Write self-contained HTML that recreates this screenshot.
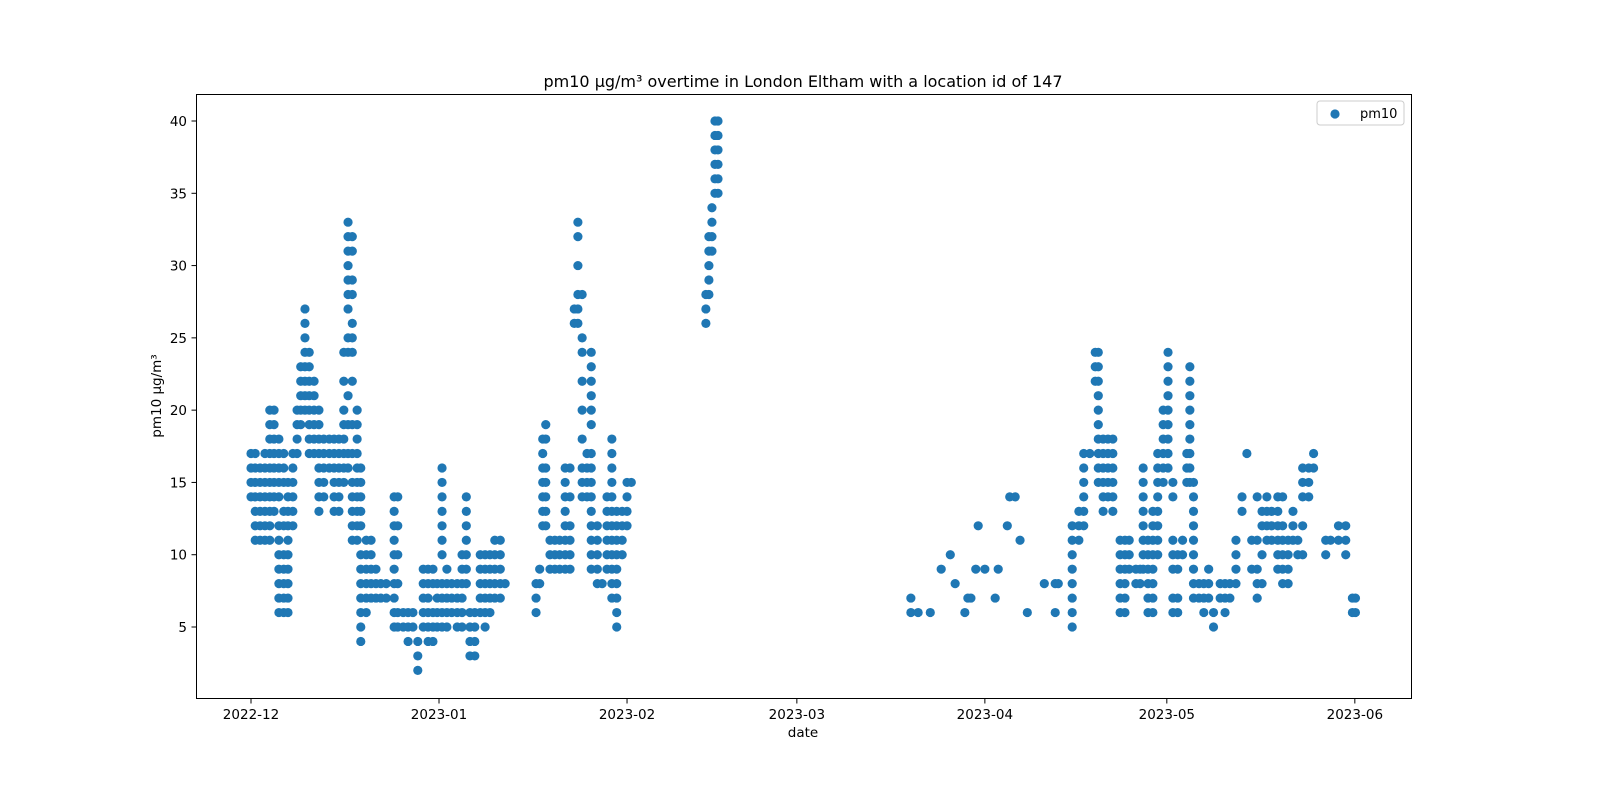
<!DOCTYPE html>
<html><head><meta charset="utf-8"><style>
html,body{margin:0;padding:0;background:#fff;overflow:hidden;width:1600px;height:800px;}
svg{display:block;}
svg text{font-family:"DejaVu Sans","Liberation Sans",sans-serif;fill:#000;}
</style></head><body>
<svg id="chart" width="1600" height="800" viewBox="0 0 1600 800" xmlns="http://www.w3.org/2000/svg">
<rect width="1600" height="800" fill="#fff"/>
<text x="803" y="87" font-size="16" text-anchor="middle">pm10 μg/m³ overtime in London Eltham with a location id of 147</text>
<g id="points"></g>
<rect x="196.5" y="94.5" width="1215" height="604" fill="none" stroke="#000" stroke-width="1"/>
<g id="xaxis"></g>
<g id="yaxis"></g>
<text x="803" y="737" font-size="13.5" text-anchor="middle">date</text>
<text x="0" y="0" font-size="13.5" text-anchor="middle" transform="translate(161,396) rotate(-90)">pm10 μg/m³</text>
<g>
<rect x="1317" y="101" width="87" height="24" rx="3" fill="#fff" stroke="#ccc"/>
<circle cx="1335" cy="114" r="4.6" fill="#1f77b4"/>
<text x="1360" y="118" font-size="13">pm10</text>
</g>
</svg>
<script>
// day offsets from 2022-12-01
const colDays = [0,0.7,1.5,2.3,3.1,3.8,4.6,5.4,6.1,6.9,7.6,8.2,8.9,9.6,10.4,11.2,12.0,12.9,13.7,14.5,15.3,16.0,16.7,17.5,18.1,19.0,19.8,20.6,21.4,22.3,23.6,24.2,25.1,25.9,26.7,27.5,28.4,29.2,30.0,30.7,31.5,32.3,33.1,34.0,34.8,35.5,36.1,36.9,37.8,38.6,39.4,40.2,41.1,41.9,47.0,47.6,48.1,48.6,49.3,50.1,50.9,51.8,52.6,53.3,53.9,54.6,55.4,56.1,57.1,57.9,58.7,59.5,60.3,61.2,62.0,62.7,75.0,75.5,76.0,76.5,77.0,108.8,110,112,113.8,115.3,116.1,117.7,118.2,118.7,119.5,119.9,121,122.7,123.2,124.7,125.1,126,126.8,128,130.8,132.6,133.1,135.4,136.5,137.3,138.3,139.2,139.7,140.5,141.3,142.1,143.3,144.1,144.8,145.9,146.6,147.1,147.9,148.7,149.5,150.4,151.2,152,152.8,153.6,154.3,154.8,155.4,156.3,157.1,157.9,158.7,159.8,160.6,161.4,162.4,163.4,164.2,165,165.9,166.7,167.5,168.3,169.3,170.1,171,171.8,172.6,173.4,174.4,175.2,177.2,178,179.3,180.5,181.6,182.1];
const colValues = [
[17,16,15,14],[17,16,15,14,13,12,11],[16,15,14,13,12,11],[17,16,15,14,13,12,11],[20,19,18,17,16,15,14,13,12,11],[20,19,18,17,16,15,14,13],[18,17,16,15,14,12,11,10,9,8,7,6],[17,16,15,13,12,10,9,8,7,6],[15,14,13,12,11,10,9,8,7,6],[17,16,15,14,13,12],[20,19,18,17],[23,22,21,20,19],[27,26,25,24,23,22,21,20],[24,23,22,21,20,19,18,17],[22,21,20,19,18,17],[20,19,18,17,16,15,14,13],[18,17,16,15,14],[18,17,16],[18,17,16,15,14,13],[18,17,16,15,14,13],[24,22,20,19,18,17,16,15],[33,32,31,30,29,28,27,25,24,21,19,17,16],[32,31,29,28,26,25,24,22,19,17,15,14,13,12,11],[20,19,18,17,16,15,14,13,12,11],[16,15,14,13,12,10,9,8,7,6,5,4],[11,10,9,8,7,6],[11,10,9,8,7],[9,8,7],[8,7],[8,7],[14,13,12,11,10,9,8,7,6,5],[14,12,10,8,6,5],[6,5],[6,5,4],[6,5],[4,3,2],[9,8,7,6,5],[9,8,7,6,5,4],[9,8,6,5,4],[8,7,6,5],[16,15,14,13,12,11,10,8,7,6,5],[9,8,7,6,5],[8,7,6],[8,7,6,5],[10,9,8,7,6,5],[14,13,12,11,10,9,8],[6,5,4,3],[6,5,4,3],[10,9,8,7,6],[10,9,8,7,6,5],[10,9,8,7,6],[11,10,9,8,7],[11,10,9,8,7],[8],[8,7,6],[9,8],[18,17,16,15,14,13,12],[19,18,16,15,14,13,12],[11,10,9],[11,10,9],[11,10,9],[16,15,14,13,12,11,10,9],[16,14,12,11,10,9],[27,26],[33,32,30,28,27,26],[28,25,24,22,20,18,16,15,14],[17,16,15,14],[24,23,22,21,20,19,17,16,15,14,13,12,11,10,9],[12,11,10,9,8],[8],[14,13,12,11,10,9],[18,17,16,15,14,13,12,11,10,9,8,7],[13,12,11,10,9,8,7,6,5],[13,12,11,10],[15,14,13,12],[15],
[28,27,26],[32,31,30,29,28],[34,33,32,31],[40,39,38,37,36,35],[40,39,38,37,36,35],
[7,6],[6],[6],[9],[10],[8],[6],[7],[7],[9],[12],[9],[7],[9],[12],[14],[14],[11],[6],[8],[8,6],[8],
[12,11,10,9,8,7,6,5],[12,11,13],[17,16,15,14,13,12],[17],[24,23,22],[24,23,22,21,20,19,18,17,16,15],[18,17,16,15,14,13],[18,17,16,15,14],[18,17,16,15,14,13],[11,10,9,8,7,6],[11,10,9,8,7,6],[11,10,9],[9,8],[9,8],[16,15,14,13,12,11,10,9],[11,10,9,8,7,6],[13,12,11,10,9,8,7,6],[17,16,15,14,13,12,11,10],[20,19,18,17,16,15],[24,23,22,21,20,19,18,17,16],[15,14,11,10,9,7,6],[10,9,7,6],[11,10],[17,16,15],[23,22,21,20,19,18,17,16,15],[15,14,13,12,11,10,9,8,7],[8,7],[8,7,6],[9,8,7],[6,5],[8,7],[8,7,6],[8,7],[11,10,9,8],[13,14],[17],[11,9],[14,11,9,8,7],[13,12,10,8],[14,13,12,11],[13,12,11],[14,13,12,11,10,9],[14,12,11,10,9,8],[11,10,9,8],[13,12,11],[11,10],[16,15,14,12,10],[16,15,14],[17,16],[11,10],[11],[12,11],[12,11,10],[7,6],[7,6]
];
const xTickDays = [0,31,62,90,121,151,182];
const xTickLabels = ["2022-12","2023-01","2023-02","2023-03","2023-04","2023-05","2023-06"];
const yTickValues = [5,10,15,20,25,30,35,40];

const NS = "http://www.w3.org/2000/svg";
function xScale(d){ return 251 + d * 6.065; }
function yScale(v){ return 627 - (v - 5) * 14.457; }

const pts = document.getElementById('points');
colDays.forEach((d, i) => {
  colValues[i].forEach(v => {
    const c = document.createElementNS(NS, 'circle');
    
    
    c.setAttribute('cx', xScale(d));
    c.setAttribute('cy', yScale(v));
    c.setAttribute('r', 4.6);
    c.setAttribute('fill', '#1f77b4');
    pts.appendChild(c);
  });
});

const xa = document.getElementById('xaxis');
xTickDays.forEach((d, i) => {
  const x = xScale(d);
  const l = document.createElementNS(NS, 'line');
  
  
  l.setAttribute('x1', x); l.setAttribute('x2', x);
  l.setAttribute('y1', 698.5); l.setAttribute('y2', 703.5);
  l.setAttribute('stroke', '#000');
  xa.appendChild(l);
  const t = document.createElementNS(NS, 'text');
  
  
  t.setAttribute('x', x); t.setAttribute('y', 719);
  t.setAttribute('font-size', '13.5');
  t.setAttribute('text-anchor', 'middle');
  t.textContent = xTickLabels[i];
  xa.appendChild(t);
});

const ya = document.getElementById('yaxis');
yTickValues.forEach(v => {
  const y = yScale(v);
  const l = document.createElementNS(NS, 'line');
  
  
  l.setAttribute('x1', 191.5); l.setAttribute('x2', 196.5);
  l.setAttribute('y1', y); l.setAttribute('y2', y);
  l.setAttribute('stroke', '#000');
  ya.appendChild(l);
  const t = document.createElementNS(NS, 'text');
  
  
  t.setAttribute('x', 187); t.setAttribute('y', y + 5);
  t.setAttribute('font-size', '13.5');
  t.setAttribute('text-anchor', 'end');
  t.textContent = v;
  ya.appendChild(t);
});
</script>
</body></html>
